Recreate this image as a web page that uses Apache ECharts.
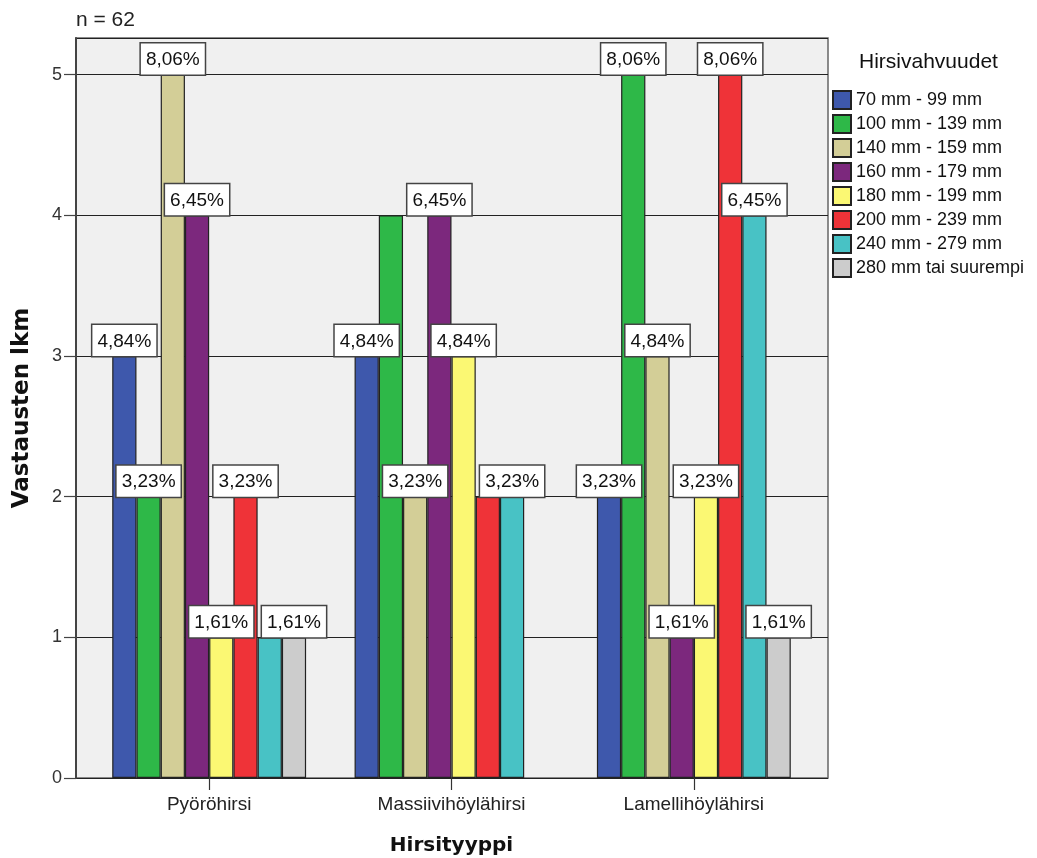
<!DOCTYPE html>
<html>
<head>
<meta charset="utf-8">
<title>Hirsityyppi ja hirsivahvuudet</title>
<script src="https://cdn.jsdelivr.net/npm/echarts@6/dist/echarts.min.js"></script>
<style>
  html, body { margin: 0; padding: 0; background: #ffffff; }
  #chart { width: 1037px; height: 858px; }
</style>
</head>
<body>
<div id="chart"></div>
<script>
// Log types (x categories)
const categories = ['Pyöröhirsi', 'Massiivihöylähirsi', 'Lamellihöylähirsi'];

// Log thickness classes (legend entries)
const thicknessClasses = [
  '70 mm - 99 mm',
  '100 mm - 139 mm',
  '140 mm - 159 mm',
  '160 mm - 179 mm',
  '180 mm - 199 mm',
  '200 mm - 239 mm',
  '240 mm - 279 mm',
  '280 mm tai suurempi'
];

// Response counts per thickness class, one value per log type
const counts70to99   = [3, 3, 2];
const counts100to139 = [2, 4, 5];
const counts140to159 = [5, 2, 3];
const counts160to179 = [4, 4, 1];
const counts180to199 = [1, 3, 2];
const counts200to239 = [2, 2, 5];
const counts240to279 = [1, 2, 4];
const counts280plus  = [1, 0, 1];

const totalN = 62;
const yTicks = [0, 1, 2, 3, 4, 5];

const seriesValues = [
  counts70to99, counts100to139, counts140to159, counts160to179,
  counts180to199, counts200to239, counts240to279, counts280plus
];

const palette = ['#3E58AC', '#2EB848', '#D3CE97', '#7C287D', '#FBF873', '#EF3338', '#48C2C5', '#CCCCCC'];

const fmtPct = v => (v / totalN * 100).toFixed(2).replace('.', ',') + '%';

// Percentage boxes are wider than a bar: walk each group from the last bar
// back to the first and drop a box that would collide with one already placed
// at the same height (boxes span roughly three bar widths).
const labelVisible = categories.map((_, ci) => {
  const shown = [];
  const flags = new Array(seriesValues.length).fill(false);
  for (let si = seriesValues.length - 1; si >= 0; si--) {
    const v = seriesValues[si][ci];
    if (!v) continue;
    const clash = shown.some(s => s.v === v && Math.abs(s.si - si) < 3);
    if (!clash) { flags[si] = true; shown.push({ si, v }); }
  }
  return flags;
});

const yMin = yTicks[0];
const yMax = 5.26;
const baseFont = 'Liberation Sans, Arial, sans-serif';
const titleFont = 'DejaVu Sans, Verdana, sans-serif';

const series = seriesValues.map((vals, si) => ({
  name: thicknessClasses[si],
  type: 'bar',
  xAxisIndex: 1,
  yAxisIndex: 1,
  barGap: '0%',
  barCategoryGap: '20%',
  itemStyle: { color: palette[si], borderColor: '#222', borderWidth: 1.2 },
  emphasis: { disabled: true },
  label: {
    position: 'top',
    distance: 0,
    formatter: p => fmtPct(p.value),
    fontFamily: baseFont,
    fontSize: 19,
    color: '#111',
    backgroundColor: '#ffffff',
    borderColor: '#444',
    borderWidth: 1.5,
    padding: [6, 5, 4, 5],
    lineHeight: 21
  },
  data: vals.map((v, ci) => ({
    value: v > 0 ? v : null,
    label: { show: labelVisible[ci][si] }
  }))
}));

const chart = echarts.init(document.getElementById('chart'), null, { renderer: 'canvas' });

chart.setOption({
  animation: false,
  backgroundColor: '#ffffff',
  title: [
    {
      text: 'n = ' + totalN,
      left: 76, top: 10, padding: 0,
      textStyle: { fontFamily: baseFont, fontSize: 21, fontWeight: 'normal', color: '#222' }
    },
    {
      text: 'Hirsivahvuudet',
      left: 859, top: 52, padding: 0,
      textStyle: { fontFamily: baseFont, fontSize: 21, fontWeight: 'normal', color: '#111' }
    }
  ],
  legend: {
    orient: 'vertical',
    left: 832,
    top: 90,
    padding: 0,
    icon: 'rect',
    itemWidth: 18,
    itemHeight: 18,
    itemGap: 4,
    selectedMode: false,
    textStyle: { fontFamily: baseFont, fontSize: 18, color: '#111' },
    data: thicknessClasses
  },
  grid: [
    // plot frame with background, value gridlines and the count axis
    {
      left: 76, right: 209, top: 38, bottom: 80,
      show: true, backgroundColor: '#f0f0f0', borderColor: '#666', borderWidth: 1.5,
      outerBoundsMode: 'none'
    },
    // bar area, inset from the frame on both sides
    {
      left: 88, right: 222, top: 38, bottom: 80,
      outerBoundsMode: 'none'
    }
  ],
  xAxis: [
    { gridIndex: 0, type: 'value', min: 0, max: 1, show: false },
    {
      gridIndex: 1,
      type: 'category',
      data: categories,
      axisLine: { show: false },
      axisTick: { show: true, alignWithLabel: true, length: 12, lineStyle: { color: '#333', width: 1.2 } },
      axisLabel: { fontFamily: baseFont, fontSize: 19, color: '#222', margin: 17 },
      splitLine: { show: false },
      name: 'Hirsityyppi',
      nameLocation: 'middle',
      nameGap: 58,
      nameTextStyle: { fontFamily: titleFont, fontSize: 20, fontWeight: 'bold', color: '#111' }
    }
  ],
  yAxis: [
    {
      gridIndex: 0,
      type: 'value',
      min: yMin,
      max: yMax,
      interval: 1,
      axisLine: { show: true, lineStyle: { color: '#444', width: 2 } },
      axisTick: { show: true, length: 12, lineStyle: { color: '#444', width: 1.2 } },
      axisLabel: {
        fontFamily: baseFont, fontSize: 18, color: '#333', margin: 14,
        showMaxLabel: false,
        formatter: v => (yTicks.includes(v) ? String(v) : '')
      },
      splitLine: { show: true, lineStyle: { color: '#222', width: 1.2 } },
      name: 'Vastausten lkm',
      nameLocation: 'middle',
      nameGap: 42,
      nameTextStyle: { fontFamily: titleFont, fontSize: 23, fontWeight: 'bold', color: '#111' }
    },
    { gridIndex: 1, type: 'value', min: yMin, max: yMax, show: false }
  ],
  series: series
});
</script>
</body>
</html>
